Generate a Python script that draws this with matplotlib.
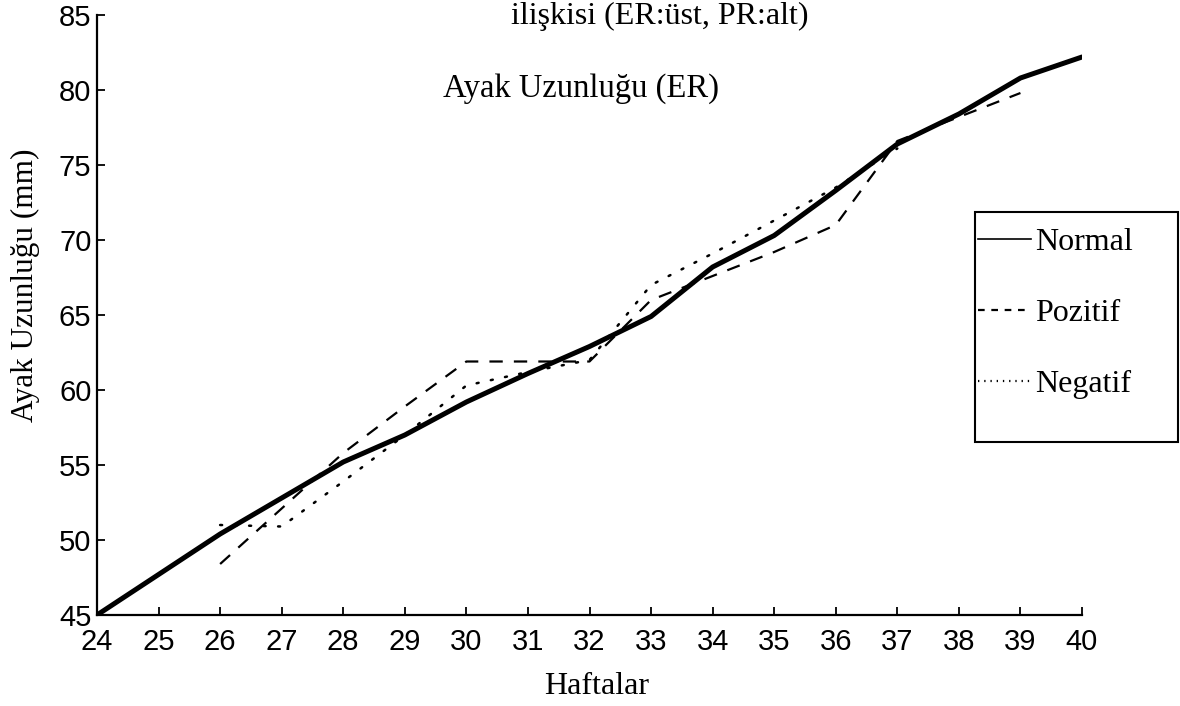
import matplotlib
matplotlib.use("Agg")
import matplotlib.pyplot as plt
from matplotlib.lines import Line2D
from matplotlib.patches import Rectangle

# weeks (Haftalar) and foot length (mm)
weeks_normal = [24, 25, 26, 27, 28, 29, 30, 31, 32, 33, 34, 35, 36, 37, 38, 39, 40]
normal = [45.0, 47.7, 50.4, 52.8, 55.2, 57.0, 59.2, 61.1, 62.9, 64.9, 68.2, 70.3, 73.3, 76.4, 78.4, 80.8, 82.2]

weeks_pozitif = [26, 27, 28, 29, 30, 31, 32, 33, 34, 35, 36, 37, 38, 39]
pozitif = [48.4, 52.1, 55.8, 58.9, 61.9, 61.9, 61.9, 66.0, 67.6, 69.2, 71.0, 76.6, 78.2, 79.8]

weeks_negatif = [26, 27, 28, 29, 30, 31, 32, 33, 34, 35, 36, 37]
negatif = [51.0, 50.9, 53.9, 57.0, 60.3, 61.2, 62.0, 67.0, 69.1, 71.3, 73.5, 76.1]

x_ticks = list(range(24, 41))
y_ticks = [45, 50, 55, 60, 65, 70, 75, 80, 85]

serif = "Liberation Serif"
sans = "Liberation Sans"

fig = plt.figure(figsize=(11.8, 7.06), dpi=100)
ax = fig.add_axes([97 / 1180, 91 / 706, 985 / 1180, 600 / 706])

ax.plot(weeks_normal, normal, color="black", lw=3.6, solid_capstyle="round",
        solid_joinstyle="round", zorder=3)
ax.plot(weeks_pozitif, pozitif, color="black", lw=1.6, linestyle=(0, (6, 5)), zorder=2)
ax.plot(weeks_negatif, negatif, color="black", lw=1.8, linestyle=(0, (0.8, 5)),
        dash_capstyle="round", zorder=2)

ax.set_xlim(24, 40)
ax.set_ylim(45, 85)
ax.set_xticks(x_ticks)
ax.set_yticks(y_ticks)
for side in ["top", "right"]:
    ax.spines[side].set_visible(False)
for side in ["left", "bottom"]:
    ax.spines[side].set_linewidth(1.6)
ax.tick_params(axis="both", direction="in", length=6, width=1.3)
ax.tick_params(axis="x", pad=9)
ax.tick_params(axis="y", pad=4)
for lbl in ax.get_xticklabels() + ax.get_yticklabels():
    lbl.set_fontfamily(sans)
    lbl.set_fontsize(21)

ax.set_xlabel("Haftalar", fontfamily=serif, fontsize=23)
ax.xaxis.set_label_coords(0.507, -0.095)
ax.set_ylabel("Ayak Uzunluğu (mm)", fontfamily=serif, fontsize=22.5)
ax.yaxis.set_label_coords(-0.058, 0.55)

fig.text(660 / 1180, 1 - 16 / 706, "ilişkisi (ER:üst, PR:alt)", fontfamily=serif,
         fontsize=23, ha="center", va="center")
ax.text(31.86, 80.1, "Ayak Uzunluğu (ER)", fontfamily=serif, fontsize=23.5,
        ha="center", va="center")

# legend box drawn separately (taller than its entries in the original)
fig.patches.append(Rectangle((975 / 1180, 1 - 442 / 706), 203 / 1180, 230 / 706,
                             transform=fig.transFigure, fill=False,
                             edgecolor="black", lw=1.5))
handles = [Line2D([], [], color="black", lw=1.2),
           Line2D([], [], color="black", lw=1.6, linestyle=(0, (3, 3))),
           Line2D([], [], color="black", lw=1.6, linestyle=(0, (0.6, 2.2)))]
labels = ["Normal", "Pozitif", "Negatif"]
fig.legend(handles, labels, loc="upper left",
           bbox_to_anchor=(966 / 1180, 1 - 216 / 706),
           prop={"family": serif, "size": 23}, frameon=False,
           handlelength=1.65, handletextpad=0.15,
           labelspacing=1.3, borderpad=0.37, borderaxespad=0)

fig.savefig("out.png", dpi=100, facecolor="white")
